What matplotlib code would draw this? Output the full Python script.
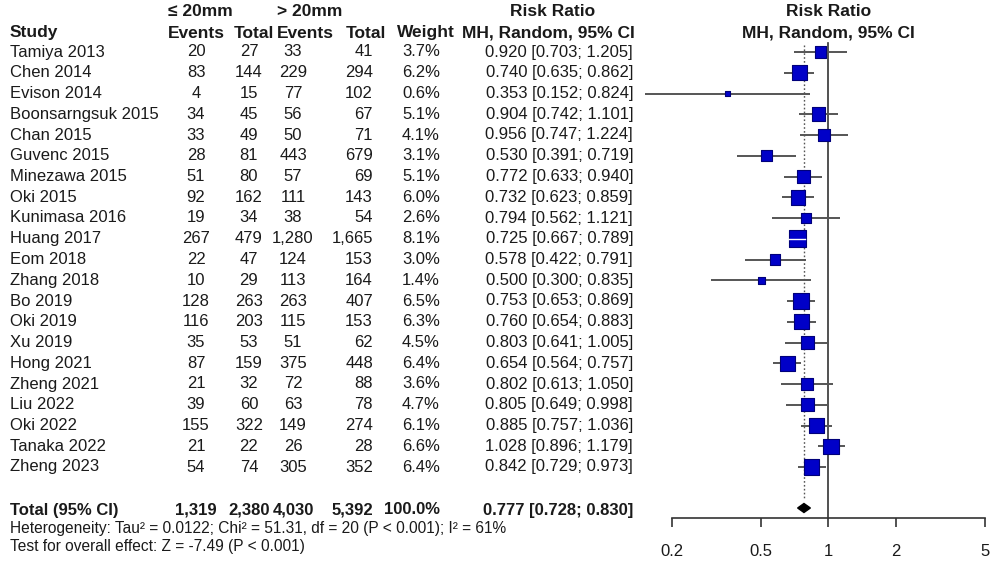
import matplotlib
matplotlib.use("Agg")
import matplotlib.pyplot as plt
import numpy as np

# ---------------- data ----------------
studies = ["Tamiya 2013", "Chen 2014", "Evison 2014", "Boonsarngsuk 2015", "Chan 2015",
           "Guvenc 2015", "Minezawa 2015", "Oki 2015", "Kunimasa 2016", "Huang 2017",
           "Eom 2018", "Zhang 2018", "Bo 2019", "Oki 2019", "Xu 2019", "Hong 2021",
           "Zheng 2021", "Liu 2022", "Oki 2022", "Tanaka 2022", "Zheng 2023"]
ev_small = [20, 83, 4, 34, 33, 28, 51, 92, 19, 267, 22, 10, 128, 116, 35, 87, 21, 39, 155, 21, 54]
tot_small = [27, 144, 15, 45, 49, 81, 80, 162, 34, 479, 47, 29, 263, 203, 53, 159, 32, 60, 322, 22, 74]
ev_large = [33, 229, 77, 56, 50, 443, 57, 111, 38, 1280, 124, 113, 263, 115, 51, 375, 72, 63, 149, 26, 305]
tot_large = [41, 294, 102, 67, 71, 679, 69, 143, 54, 1665, 153, 164, 407, 153, 62, 448, 88, 78, 274, 28, 352]
weights = [3.7, 6.2, 0.6, 5.1, 4.1, 3.1, 5.1, 6.0, 2.6, 8.1, 3.0, 1.4, 6.5, 6.3, 4.5, 6.4, 3.6, 4.7, 6.1, 6.6, 6.4]
rr = [0.920, 0.740, 0.353, 0.904, 0.956, 0.530, 0.772, 0.732, 0.794, 0.725, 0.578, 0.500,
      0.753, 0.760, 0.803, 0.654, 0.802, 0.805, 0.885, 1.028, 0.842]
rr_lo = [0.703, 0.635, 0.152, 0.742, 0.747, 0.391, 0.633, 0.623, 0.562, 0.667, 0.422, 0.300,
         0.653, 0.654, 0.641, 0.564, 0.613, 0.649, 0.757, 0.896, 0.729]
rr_hi = [1.205, 0.862, 0.824, 1.101, 1.224, 0.719, 0.940, 0.859, 1.121, 0.789, 0.791, 0.835,
         0.869, 0.883, 1.005, 0.757, 1.050, 0.998, 1.036, 1.179, 0.973]
total_ev_small, total_tot_small = 1319, 2380
total_ev_large, total_tot_large = 4030, 5392
total_weight = 100.0
total_rr, total_lo, total_hi = 0.777, 0.728, 0.830
tick_vals = [0.2, 0.5, 1, 2, 5]
tick_labels = ["0.2", "0.5", "1", "2", "5"]
heterogeneity = "Heterogeneity: Tau\u00b2 = 0.0122; Chi\u00b2 = 51.31, df = 20 (P < 0.001); I\u00b2 = 61%"
overall = "Test for overall effect: Z = -7.49 (P < 0.001)"

# ---------------- layout ----------------
W, H = 995, 563
Y0, DY = 52.0, 20.75           # pixel y of first row, row spacing
def row(px):                    # pixel y -> row units
    return (px - Y0) / DY
YTOP, YBOT = row(0), row(H)

FONT = ["Liberation Sans", "DejaVu Sans"]
FS = 12
HFS = 12.5
TXT = "#1a1a1a"
plt.rcParams["font.family"] = FONT

fig = plt.figure(figsize=(W / 100, H / 100), dpi=100)
tab = fig.add_axes([0, 0, 1, 1])
tab.set_xlim(0, W)
tab.set_ylim(YBOT, YTOP)
tab.axis("off")

def t(x, y, s, ha="left", bold=False, size=FS):
    tab.text(x, y, s, ha=ha, va="center", fontsize=size, color=TXT,
             fontweight="bold" if bold else "normal", family=FONT)

# headers
h1, h2 = row(12), row(33)
t(168, h1, "\u2264 20mm", bold=True, size=HFS)
t(277, h1, "> 20mm", bold=True, size=HFS)
t(553, h1, "Risk Ratio", ha="center", bold=True, size=HFS)
t(10, h2, "Study", bold=True, size=HFS)
t(168, h2, "Events", bold=True, size=HFS)
t(234, h2, "Total", bold=True, size=HFS)
t(277, h2, "Events", bold=True, size=HFS)
t(346, h2, "Total", bold=True, size=HFS)
t(397, h2, "Weight", bold=True, size=HFS)
t(635, h2, "MH, Random, 95% CI", ha="right", bold=True, size=HFS)

X_EV1, X_TOT1, X_EV2, X_TOT2, X_W, X_RR = 196, 249, 293, 373, 440, 633
for i, name in enumerate(studies):
    t(10, i, name)
    t(X_EV1, i, f"{ev_small[i]:,}", ha="center")
    t(X_TOT1, i, f"{tot_small[i]:,}", ha="center")
    t(X_EV2, i, f"{ev_large[i]:,}", ha="center")
    t(X_TOT2, i, f"{tot_large[i]:,}", ha="right")
    t(X_W, i, f"{weights[i]:.1f}%", ha="right")
    t(X_RR, i, f"{rr[i]:.3f} [{rr_lo[i]:.3f}; {rr_hi[i]:.3f}]", ha="right")

ytot = row(510)
t(10, ytot, "Total (95% CI)", bold=True)
t(X_EV1, ytot, f"{total_ev_small:,}", ha="center", bold=True)
t(X_TOT1, ytot, f"{total_tot_small:,}", ha="center", bold=True)
t(X_EV2, ytot, f"{total_ev_large:,}", ha="center", bold=True)
t(X_TOT2, ytot, f"{total_tot_large:,}", ha="right", bold=True)
t(X_W, ytot, f"{total_weight:.1f}%", ha="right", bold=True)
t(X_RR, ytot, f"{total_rr:.3f} [{total_lo:.3f}; {total_hi:.3f}]", ha="right", bold=True)
t(10, row(529), heterogeneity, size=11.2)
t(10, row(547), overall, size=11.2)

# ---------------- forest panel ----------------
X1PX, PXDEC = 828.5, 224.0      # pixel of RR=1, pixels per decade
fa = fig.add_axes([640 / W, 0, (W - 640) / W, 1])
fa.set_xscale("log")
fa.set_xlim(10 ** ((640 - X1PX) / PXDEC), 10 ** ((W - X1PX) / PXDEC))
fa.set_ylim(YBOT, YTOP)
fa.patch.set_alpha(0)
for s in ("top", "right", "left"):
    fa.spines[s].set_visible(False)
axis_row = row(518)
fa.spines["bottom"].set_position(("data", axis_row))
fa.spines["bottom"].set_bounds(tick_vals[0], tick_vals[-1])
fa.spines["bottom"].set_color("#333333")
fa.spines["bottom"].set_linewidth(1.2)
fa.set_yticks([])
fa.set_xticks(tick_vals)
fa.set_xticklabels(tick_labels)
fa.xaxis.set_minor_locator(matplotlib.ticker.NullLocator())
fa.tick_params(axis="x", direction="out", length=6.5, width=1.2, color="#333333",
               pad=12, labelsize=FS, labelcolor=TXT)

# reference lines
fa.plot([1, 1], [row(43), axis_row], color="#333333", lw=1.2, zorder=1)
fa.plot([total_rr, total_rr], [row(45), row(500)], color="#555555", lw=1.0,
        ls=(0, (1.2, 1.6)), zorder=1)

# study CIs and squares
ys = np.arange(len(studies))
for i in ys:
    fa.plot([rr_lo[i], rr_hi[i]], [i, i], color="#555555", lw=1.4, zorder=2,
            solid_capstyle="butt")
sizes = [(0.72 * 6.0) ** 2 * w for w in weights]
fa.scatter(rr, ys, s=sizes, marker="s", facecolor="#0000c8", edgecolor="#00007a",
           linewidth=0.8, zorder=3)
# white CI segment where the CI lies within the square
for i in ys:
    half = 6.0 * np.sqrt(weights[i]) / 2
    cx = fa.transData.transform((rr[i], i))[0]
    lx = fa.transData.transform((rr_lo[i], i))[0]
    hx = fa.transData.transform((rr_hi[i], i))[0]
    if lx > cx - half and hx < cx + half:
        fa.plot([rr_lo[i], rr_hi[i]], [i, i], color="white", lw=1.0, zorder=4)

# summary diamond
dh = 4.5 / DY
dy_tot = row(508)
fa.fill([total_lo, total_rr, total_hi, total_rr],
        [dy_tot, dy_tot - dh, dy_tot, dy_tot + dh], color="black", zorder=3)

# forest headers
fa.text(1, h1, "Risk Ratio", ha="center", va="center", fontsize=HFS, fontweight="bold",
        color=TXT, family=FONT)
fa.text(1, h2, "MH, Random, 95% CI", ha="center", va="center", fontsize=HFS,
        fontweight="bold", color=TXT, family=FONT)

fig.savefig("out.png", dpi=100)
